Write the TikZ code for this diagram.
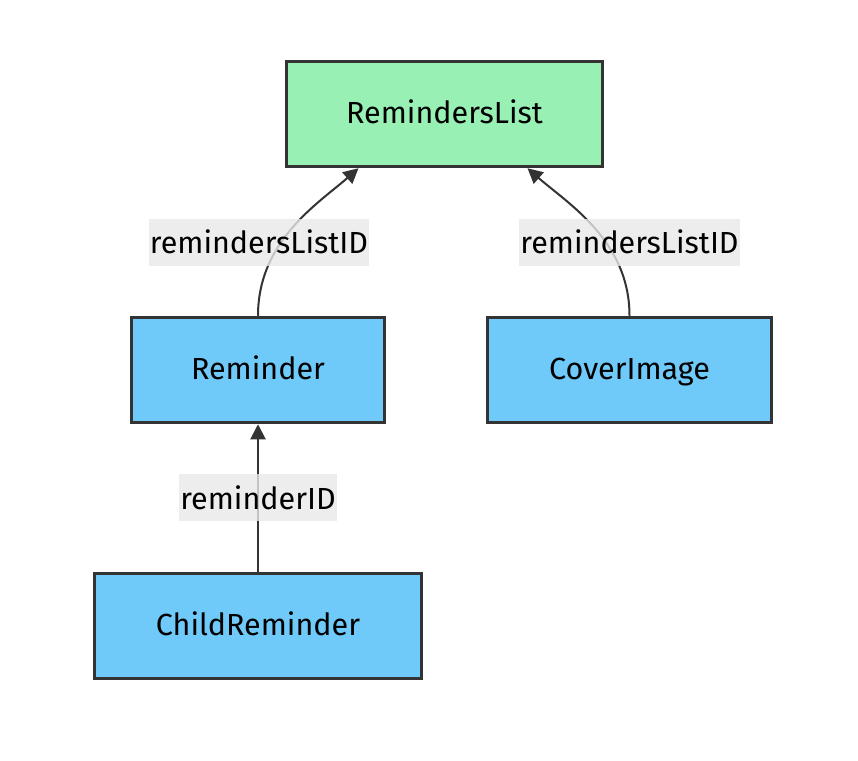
\documentclass[tikz,border=0pt]{standalone}
\usepackage{fontspec}
\setmainfont{Fira Sans}
\usetikzlibrary{arrows.meta}
\definecolor{boxborder}{HTML}{333333}
\definecolor{greenfill}{HTML}{98F0B5}
\definecolor{bluefill}{HTML}{6FC9F9}
\definecolor{labelbg}{HTML}{E8E8E8}
\tikzset{
  entity/.style={draw=boxborder, line width=3.5pt, minimum height=105pt, inner sep=0pt, text height=21pt, text depth=2pt, font=\fontsize{30.5}{36}\selectfont},
  greenbox/.style={entity, fill=greenfill},
  bluebox/.style={entity, fill=bluefill},
  edge/.style={draw=boxborder, line width=2pt, -{Triangle[length=15pt,width=15pt]}},
  elabel/.style={fill=labelbg, fill opacity=0.8, text opacity=1, inner xsep=1pt, inner ysep=0pt, minimum height=47pt, font=\fontsize{30.5}{36}\selectfont}
}
\begin{document}
\begin{tikzpicture}[x=1pt,y=-1pt]
\useasboundingbox (0,0) rectangle (858,760);
\node[greenbox, minimum width=316pt] (rl) at (444.5,114) {RemindersList};
\node[bluebox, minimum width=253pt] (rem) at (258,370) {Reminder};
\node[bluebox, minimum width=284pt] (cov) at (629.5,370) {CoverImage};
\node[bluebox, minimum width=327pt] (child) at (258,626) {ChildReminder};
\coordinate (rlL) at ([xshift=-86pt]rl.south);
\coordinate (rlR) at ([xshift=83pt]rl.south);
\draw[edge] (rem.north) .. controls +(0,-75) and +(-40,35) .. (rlL);
\draw[edge] (cov.north) .. controls +(0,-75) and +(40,35) .. (rlR);
\draw[edge] (child.north) -- (rem.south);
\node[elabel] (l1) at (259,242) {remindersListID};
\node[elabel] (l2) at (629.5,242) {remindersListID};
\node[elabel] (l3) at (258,497.5) {reminderID};
\end{tikzpicture}
\end{document}
